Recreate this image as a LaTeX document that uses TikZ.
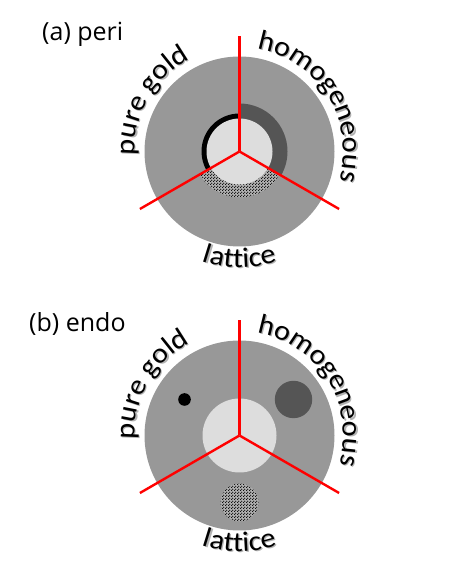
\documentclass[tikz,border=0pt]{standalone}
\usepackage{fontspec}
\setmainfont{Open Sans}
\newfontfamily\arcfont[FakeStretch=1.08,Scale=2.8]{Carlito}
\usetikzlibrary{decorations.text,patterns}

\definecolor{discgray}{RGB}{152,152,152}
\definecolor{coregray}{RGB}{221,221,221}
\definecolor{shellgray}{RGB}{85,85,85}

\pgfdeclarepatternformonly{granule}{\pgfpointorigin}{\pgfpoint{3pt}{3pt}}{\pgfpoint{3pt}{3pt}}{
  \pgfpathcircle{\pgfpoint{0.75pt}{0.75pt}}{0.8pt}
  \pgfpathcircle{\pgfpoint{2.25pt}{2.25pt}}{0.8pt}
  \pgfusepath{fill}}

\begin{document}
\begin{tikzpicture}[x=1pt,y=1pt,
  redline/.style={red,line width=2.4pt},
  panellabel/.style={anchor=base west,inner sep=0pt,font=\fontsize{25}{30}\selectfont},
  arctext/.style={decorate,decoration={text along path,text align=center,text={|\arcfont|#1}}},
  arcshadow/.style={xshift=1.3pt,yshift=-1.3pt,decorate,
    decoration={text along path,text align=center,text={|\arcfont\color{black!30}|#1}}},
  dotted ring/.style={fill=coregray!80!black,postaction={pattern=granule}}]

  \useasboundingbox (0,0) rectangle (472,575);

  % (a) peri
  \node[panellabel] (peri) at (42,534) {(a) peri};

  \begin{scope}[shift={(239.5,423.5)}]
    \coordinate (ca) at (0,0);
    \fill[discgray] (ca) circle (95);
    \fill[shellgray] (ca) -- (90:48) arc[start angle=90,end angle=-30,radius=48] -- cycle;
    \fill[black] (ca) -- (90:38) arc[start angle=90,end angle=210,radius=38] -- cycle;
    \fill[dotted ring] (ca) -- (210:46) arc[start angle=210,end angle=330,radius=46] -- cycle;
    \fill[coregray] (ca) circle (33);

    \coordinate (a1) at (90:115);
    \coordinate (a2) at (210:115);
    \coordinate (a3) at (330:115);
    \draw[redline] (ca) -- (a1);
    \draw[redline] (ca) -- (a2);
    \draw[redline] (ca) -- (a3);

    \path[arcshadow={pure gold}] (210:105) arc[start angle=210,end angle=90,radius=105];
    \path[arctext={pure gold}] (210:105) arc[start angle=210,end angle=90,radius=105];
    \path[arcshadow={homogeneous}] (92:104) arc[start angle=92,end angle=-28,radius=104];
    \path[arctext={homogeneous}] (92:104) arc[start angle=92,end angle=-28,radius=104];
    \path[arcshadow={lattice}] (210:116) arc[start angle=210,end angle=330,radius=116];
    \path[arctext={lattice}] (210:116) arc[start angle=210,end angle=330,radius=116];
  \end{scope}

  % (b) endo
  \node[panellabel] (endo) at (29,243) {(b) endo};

  \begin{scope}[shift={(239.5,139.5)}]
    \coordinate (cb) at (0,0);
    \fill[discgray] (cb) circle (95);
    \fill[coregray] (cb) circle (37);
    \fill[black] (-55,36) circle (6.3);
    \fill[shellgray] (54,36) circle (18.7);
    \fill[dotted ring] (0,-67) circle (19);

    \coordinate (b1) at (90:115);
    \coordinate (b2) at (210:115);
    \coordinate (b3) at (330:115);
    \draw[redline] (cb) -- (b1);
    \draw[redline] (cb) -- (b2);
    \draw[redline] (cb) -- (b3);

    \path[arcshadow={pure gold}] (210:105) arc[start angle=210,end angle=90,radius=105];
    \path[arctext={pure gold}] (210:105) arc[start angle=210,end angle=90,radius=105];
    \path[arcshadow={homogeneous}] (92:104) arc[start angle=92,end angle=-28,radius=104];
    \path[arctext={homogeneous}] (92:104) arc[start angle=92,end angle=-28,radius=104];
    \path[arcshadow={lattice}] (210:116) arc[start angle=210,end angle=330,radius=116];
    \path[arctext={lattice}] (210:116) arc[start angle=210,end angle=330,radius=116];
  \end{scope}

\end{tikzpicture}
\end{document}
